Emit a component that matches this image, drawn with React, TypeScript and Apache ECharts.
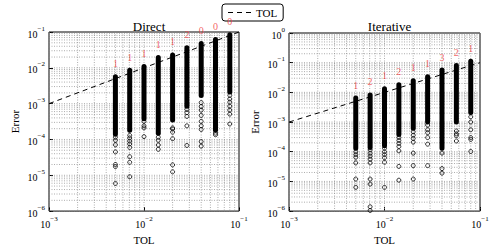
import React, { useEffect, useRef } from 'react';
import * as echarts from 'echarts';

const tolValues = [0.005, 0.00707, 0.01, 0.01414, 0.02, 0.02828, 0.04, 0.05657, 0.08];
const tolLine = [0.001, 0.1];

const directMax = [0.0056, 0.0085, 0.0109, 0.0195, 0.0228, 0.0362, 0.0479, 0.062, 0.0836];
const directDenseMin = [1.4e-4, 1.8e-4, 3.8e-4, 1.5e-4, 3.5e-4, 8.5e-4, 1.7e-3, 1.8e-4, 2.1e-3];
const directOutliers = [
  [1.15e-4, 9.5e-5, 7.1e-5, 4.5e-5, 2.0e-5, 1.75e-5, 5.9e-6],
  [1.3e-4, 1.1e-4, 9e-5, 7.5e-5, 6e-5, 3.3e-5, 2.3e-5, 9.1e-6],
  [3.2e-4, 2.4e-4, 2.1e-4, 1.2e-4],
  [1.15e-4, 9.5e-5, 7e-5, 5.3e-5],
  [2.1e-4, 1.95e-4, 1.6e-4, 1.05e-4, 1.95e-5, 1.25e-5],
  [6.9e-4, 5.6e-4, 4.4e-4, 2.4e-4, 6.8e-5],
  [1.07e-3, 8.3e-4, 6.6e-4, 4.7e-4, 3.2e-4, 2.4e-4, 1.9e-4, 8.7e-5, 6.5e-5],
  [1.5e-4, 1.35e-4],
  [1.7e-3, 1.35e-3, 1.1e-3, 8.5e-4, 6.6e-4, 5.1e-4, 2.7e-4],
];
const directFails = [1, 1, 1, 1, 1, 2, 0, 0, 0];

const iterMax = [0.00645, 0.0082, 0.0133, 0.0182, 0.0244, 0.0333, 0.0565, 0.081, 0.111];
const iterDenseMin = [1.3e-4, 1.4e-4, 1.6e-4, 3.8e-4, 6.2e-4, 1e-3, 1.3e-4, 1e-3, 2.1e-3];
const iterOutliers = [
  [1e-4, 8e-5, 6.5e-5, 4.2e-5, 1.2e-5, 6.3e-6],
  [1.15e-4, 8.9e-5, 7.1e-5, 5.6e-5, 4.2e-5, 1.2e-5, 8.1e-6, 1.4e-6, 1.05e-6],
  [1.3e-4, 1e-4, 8e-5, 6.3e-5, 4.4e-5, 6.3e-6],
  [3e-4, 2.4e-4, 1.9e-4, 1.5e-4, 1.07e-4, 3.2e-5, 1.1e-5],
  [4.7e-4, 3.6e-4, 2.8e-4, 2.1e-4, 9e-5, 3.4e-5, 1.2e-5],
  [7.9e-4, 5.5e-4, 4.4e-4, 3e-4, 1.8e-4, 3.4e-5],
  [9e-5, 2.7e-5, 1.9e-5],
  [5e-4, 4e-4, 3.5e-4, 2.3e-4],
  [1.5e-3, 1.0e-3, 5.5e-4, 3e-4, 2.6e-4, 1.02e-4],
];
const iterFails = [1, 2, 1, 2, 1, 1, 3, 2, 1];

const panelTitles = ['Direct', 'Iterative'];
const yRanges = [[1e-6, 1e-1], [1e-6, 1]];
const xRange = [1e-3, 1e-1];

const FONT = "'Liberation Serif', 'DejaVu Serif', serif";

function gridValues(min: number, max: number) {
  const out: number[] = [];
  const e0 = Math.round(Math.log10(min));
  const e1 = Math.round(Math.log10(max));
  for (let e = e0; e < e1; e++) {
    for (let m = 1; m <= 9; m++) out.push(m * Math.pow(10, e));
  }
  out.push(max);
  return out;
}

function logLabel(v: number) {
  const e = Math.round(Math.log10(v));
  return `{b|10}{s|${e < 0 ? '\u2212' : ''}${Math.abs(e)}}`;
}

const richLabel = {
  b: { fontSize: 10, fontFamily: FONT, color: '#000', verticalAlign: 'bottom', lineHeight: 14 },
  s: { fontSize: 7, fontFamily: FONT, color: '#000', verticalAlign: 'top', lineHeight: 14 },
};

const gridStyle = { stroke: '#8a8a8a', lineWidth: 0.7, lineDash: [1, 1.5] };

export default function App() {
  const ref = useRef<HTMLDivElement>(null);
  useEffect(() => {
    document.body.style.margin = '0';
    if (!ref.current) return;
    const chart = echarts.init(ref.current, null, { renderer: 'svg' });
    const panels = [
      { max: directMax, min: directDenseMin, outliers: directOutliers, fails: directFails },
      { max: iterMax, min: iterDenseMin, outliers: iterOutliers, fails: iterFails },
    ];
    const grids = [
      { left: 49, top: 32, width: 190, height: 192 },
      { left: 289, top: 33, width: 191, height: 191 },
    ];
    const series: any[] = [];
    panels.forEach((p, gi) => {
      const xs = gridValues(xRange[0], xRange[1]);
      const ys = gridValues(yRanges[gi][0], yRanges[gi][1]);
      series.push({
        type: 'custom',
        xAxisIndex: gi,
        yAxisIndex: gi,
        data: xs.map((v) => [v, yRanges[gi][0]]),
        silent: true,
        z: 1,
        renderItem: (params: any, api: any) => {
          const cs = params.coordSys;
          const pt = api.coord([api.value(0), api.value(1)]);
          return { type: 'line', shape: { x1: pt[0], y1: cs.y, x2: pt[0], y2: cs.y + cs.height }, style: gridStyle };
        },
      });
      series.push({
        type: 'custom',
        xAxisIndex: gi,
        yAxisIndex: gi,
        data: ys.map((v) => [xRange[0], v]),
        silent: true,
        z: 1,
        renderItem: (params: any, api: any) => {
          const cs = params.coordSys;
          const pt = api.coord([api.value(0), api.value(1)]);
          return { type: 'line', shape: { x1: cs.x, y1: pt[1], x2: cs.x + cs.width, y2: pt[1] }, style: gridStyle };
        },
      });
      series.push({
        type: 'line',
        name: 'TOL',
        xAxisIndex: gi,
        yAxisIndex: gi,
        data: tolLine.map((v) => [v, v]),
        symbol: 'none',
        lineStyle: { color: '#000', width: 1, type: [5, 4] },
        z: 4,
      });
      series.push({
        type: 'custom',
        xAxisIndex: gi,
        yAxisIndex: gi,
        data: tolValues.map((x, i) => [x, p.min[i], p.max[i]]),
        encode: { x: 0, y: [1, 2] },
        silent: true,
        z: 3,
        renderItem: (params: any, api: any) => {
          const top = api.coord([api.value(0), api.value(2)]);
          const bot = api.coord([api.value(0), api.value(1)]);
          const w = 5;
          return {
            type: 'rect',
            shape: { x: top[0] - w / 2, y: top[1] - w / 2, width: w, height: bot[1] - top[1] + w, r: w / 2 },
            style: { fill: '#000' },
          };
        },
      });
      series.push({
        type: 'scatter',
        xAxisIndex: gi,
        yAxisIndex: gi,
        data: tolValues.flatMap((x, i) => p.outliers[i].map((v) => [x, v])),
        symbol: 'circle',
        symbolSize: 4,
        itemStyle: { color: 'rgba(255,255,255,0)', borderColor: '#000', borderWidth: 1 },
        silent: true,
        z: 3,
      });
      series.push({
        type: 'scatter',
        xAxisIndex: gi,
        yAxisIndex: gi,
        data: tolValues.map((x, i) => [x, p.max[i], p.fails[i]]),
        symbolSize: 0,
        silent: true,
        z: 5,
        label: {
          show: true,
          position: 'top',
          distance: 8,
          formatter: (q: any) => String(q.data[2]),
          color: '#f03c3c',
          fontSize: 10,
          fontFamily: FONT,
        },
      });
    });
    chart.setOption({
      animation: false,
      backgroundColor: '#fff',
      title: panelTitles.map((t, i) => ({
        text: t,
        left: i === 0 ? 144 : 384.5,
        top: 15,
        textAlign: 'center',
        textStyle: { fontFamily: FONT, fontSize: 13, fontWeight: 'normal', color: '#000' },
      })),
      legend: {
        data: ['TOL'],
        left: 222,
        top: 4,
        icon: 'path://M0 0H5V1H0Z M9 0H14V1H9Z M18 0H23V1H18Z',
        itemWidth: 23,
        itemHeight: 1.2,
        itemGap: 4,
        itemStyle: { color: '#000' },
        padding: [3, 6, 3, 6],
        borderColor: '#000',
        borderWidth: 1,
        borderRadius: 3,
        textStyle: { fontFamily: FONT, fontSize: 11, color: '#000' },
      },
      grid: grids.map((g) => ({ ...g, show: true, borderColor: '#000', borderWidth: 1, backgroundColor: 'transparent' })),
      xAxis: [0, 1].map((gi) => ({
        type: 'log',
        gridIndex: gi,
        min: xRange[0],
        max: xRange[1],
        name: 'TOL',
        nameLocation: 'middle',
        nameGap: 20,
        nameTextStyle: { fontFamily: FONT, fontSize: 11, color: '#000' },
        axisLine: { show: false },
        axisTick: { show: true, inside: true, length: 4, lineStyle: { color: '#000' } },
        splitLine: { show: false },
        axisLabel: { formatter: logLabel, rich: richLabel, margin: 4, fontFamily: FONT },
      })),
      yAxis: [0, 1].map((gi) => ({
        type: 'log',
        gridIndex: gi,
        min: yRanges[gi][0],
        max: yRanges[gi][1],
        name: 'Error',
        nameLocation: 'middle',
        nameGap: 29,
        nameRotate: 90,
        nameTextStyle: { fontFamily: FONT, fontSize: 11, color: '#000' },
        axisLine: { show: false },
        axisTick: { show: true, inside: true, length: 4, lineStyle: { color: '#000' } },
        splitLine: { show: false },
        axisLabel: { formatter: logLabel, rich: richLabel, margin: 4, fontFamily: FONT },
      })),
      series,
    });
    return () => chart.dispose();
  }, []);
  return <div ref={ref} style={{ width: 500, height: 250 }} />;
}
